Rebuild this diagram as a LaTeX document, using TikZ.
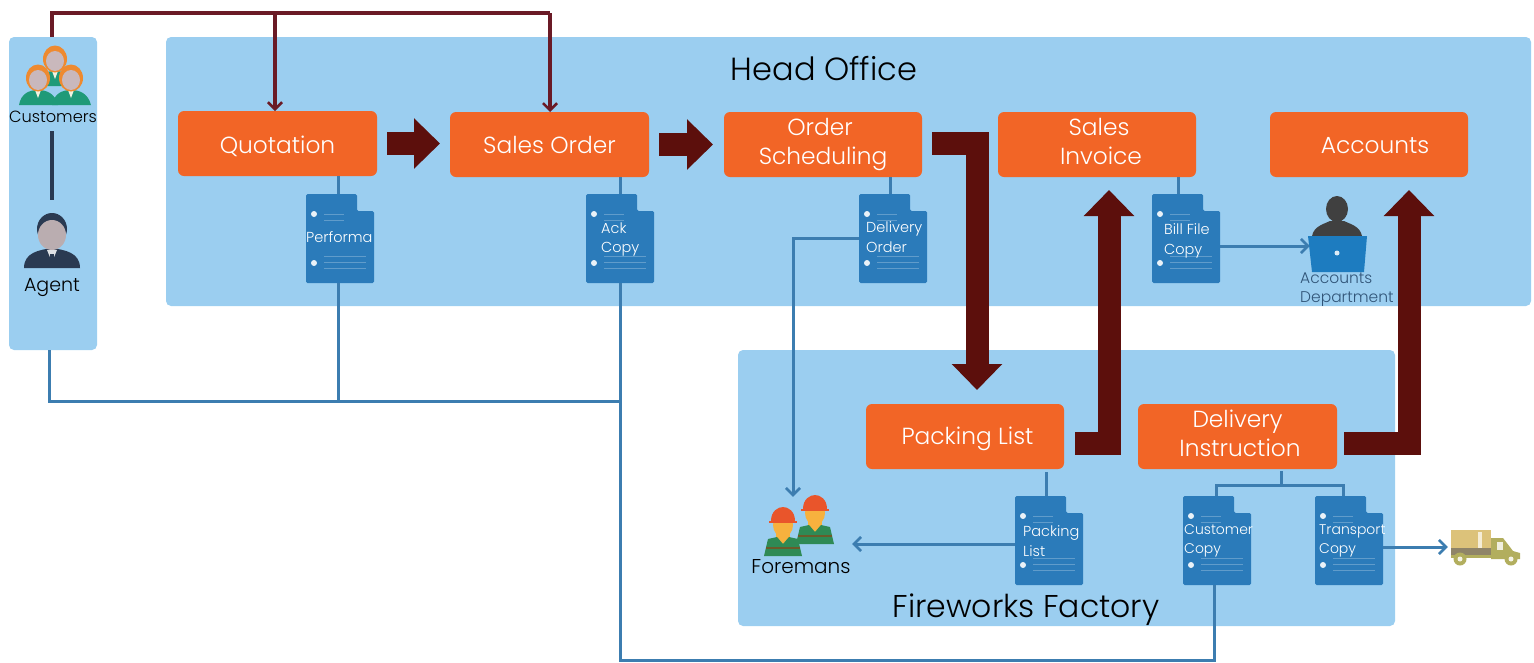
\documentclass[tikz,border=0pt]{standalone}
\usepackage{fontspec}
\setmainfont{Poppins Light}
\usetikzlibrary{arrows.meta,calc}
\definecolor{panel}{HTML}{9BCEF0}
\definecolor{boxor}{HTML}{F26526}
\definecolor{docb}{HTML}{2B7BBA}
\definecolor{lineb}{HTML}{3C7DB0}
\definecolor{bigr}{HTML}{5C0F0C}
\definecolor{thinr}{HTML}{6A1A26}
\definecolor{navy}{HTML}{2A3A52}
\definecolor{F1}{HTML}{1F9A78}
\definecolor{F2}{HTML}{F2F2E0}
\definecolor{F3}{HTML}{EE8A30}
\definecolor{F4}{HTML}{C9B8BC}
\definecolor{HG}{HTML}{2F8A55}
\definecolor{HY}{HTML}{F7B13E}
\definecolor{HR}{HTML}{E9552B}
\definecolor{HB}{HTML}{6B5A2A}
\definecolor{LAP}{HTML}{1D7CC0}
\definecolor{TK1}{HTML}{DCC27A}
\definecolor{TK2}{HTML}{8F8468}
\definecolor{TK3}{HTML}{B2AE5E}
\tikzset{
  panelbox/.style={fill=panel,rounded corners=5pt,minimum width=#1,inner sep=0pt,outer sep=0pt},
  orangebox/.style={fill=boxor,rounded corners=6pt,minimum width=198pt,minimum height=65pt,inner sep=0pt,outer sep=0pt,text=white,align=center,font=\fontsize{23.3}{29}\selectfont},
  docnode/.style={minimum width=68pt,minimum height=89pt,inner sep=0pt,outer sep=0pt},
  doctext/.style={text=white,align=left,inner sep=0pt,font=\fontsize{14.5}{19.5}\selectfont,anchor=west},
  blackt/.style={text=black,inner sep=0pt,font=\fontsize{16.2}{19}\selectfont},
  titletext/.style={text=black,inner sep=0pt,font=\fontsize{32}{36}\selectfont},
  blueline/.style={draw=lineb,line width=3pt},
  bluearrow/.style={blueline,-{Straight Barb[length=7pt,width=14pt,line width=2.6pt]}},
  redline/.style={draw=thinr,line width=3.2pt},
  redarrow/.style={redline,-{Straight Barb[length=7pt,width=14pt,line width=2.6pt]}},
  bigarrow/.style={draw=bigr,line width=23pt,line join=miter,-{Triangle[width=49pt,length=26pt]}},
}
\newcommand{\docshape}[2]{% x y top-left
  \fill[docb,rounded corners=1.5pt] (#1,#2) -- ++(51,0) -- ++(0,17) -- ++(17,0) -- ++(0,72) -- ++(-68,0) -- cycle;
  \fill[white!90!docb] (#1+8,#2+20) circle (3pt) (#1+8,#2+69) circle (3pt);
  \draw[white!25!docb,line width=.8pt] (#1+18,#2+20) -- ++(20,0) (#1+18,#2+26) -- ++(20,0)
     (#1+18,#2+62) -- ++(42,0) (#1+18,#2+68) -- ++(42,0) (#1+18,#2+74) -- ++(42,0);
}
\newcommand{\woman}[2]{% x y: head centre
  \fill[F1] (#1-19,#2+26) .. controls (#1-17,#2+14) and (#1-8,#2+11) .. (#1,#2+11) .. controls (#1+8,#2+11) and (#1+17,#2+14) .. (#1+20,#2+26) -- cycle;
  \fill[F2] (#1-3,#2+11) -- (#1+3,#2+11) -- (#1,#2+19) -- cycle;
  \fill[F3] (#1,#2-1) ellipse (12pt and 13.5pt);
  \fill[F4] (#1,#2+1) ellipse (9pt and 10pt);
}
\newcommand{\foreman}[2]{% x y: head centre
  \fill[HY] (#1-7,#2+10) rectangle (#1+7,#2+22);
  \fill[HG] (#1-19,#2+34) -- (#1-15,#2+17) -- (#1-6,#2+15) -- (#1,#2+22) -- (#1+6,#2+15) -- (#1+15,#2+17) -- (#1+19,#2+34) -- cycle;
  \fill[HY] (#1,#2+3) ellipse (10pt and 12pt);
  \fill[HR] (#1-12,#2-1) .. controls (#1-12,#2-11) and (#1-5,#2-15) .. (#1,#2-15) .. controls (#1+5,#2-15) and (#1+12,#2-11) .. (#1+12,#2-1) -- cycle;
  \fill[HR] (#1-14,#2-1) rectangle (#1+14,#2+1);
  \fill[HB] (#1-17,#2+25) rectangle (#1+17,#2+27);
}
\begin{document}
\begin{tikzpicture}[x=1pt,y=-1pt]
\useasboundingbox (0,0) rectangle (1534,662);
% panels
\node[panelbox=88pt,minimum height=313pt] (side) at (53,193.5) {};
\node[panelbox=1365pt,minimum height=269pt] (head) at (848.5,171.5) {};
\node[panelbox=657pt,minimum height=276pt] (factory) at (1066.5,488) {};
% orange boxes
\node[orangebox,minimum width=199pt] (quot) at (277.5,143.5) {\raisebox{0pt}[19pt][0pt]{Quotation}};
\node[orangebox,minimum width=199pt] (so) at (549.5,144.5) {Sales Order};
\node[orangebox] (sched) at (823,144.5) {Order\hspace*{6pt}\\Scheduling};
\node[orangebox] (inv) at (1097,144.5) {\hspace*{4pt}Sales\\\hspace*{8pt}Invoice\vphantom{g}};
\node[orangebox] (acc) at (1369,144.5) {\hspace*{12pt}\raisebox{0pt}[17pt][0pt]{Accounts}};
\node[orangebox] (pack) at (965,436.5) {\hspace*{5pt}\raisebox{0pt}[15pt][0pt]{Packing List}};
\node[orangebox,minimum width=199pt] (deliv) at (1237.5,436.5) {Delivery\\\hspace*{5pt}Instruction\vphantom{g}};
% documents
\docshape{306}{194}\docshape{586}{194}\docshape{859}{194}\docshape{1152}{194}
\docshape{1015}{496}\docshape{1183}{496}\docshape{1315}{496}
\node[docnode] (dperf) at (340,238.5) {};
\node[docnode] (dack) at (620,238.5) {};
\node[docnode] (ddo) at (893,238.5) {};
\node[docnode] (dbill) at (1186,238.5) {};
\node[docnode] (dpack) at (1049,540.5) {};
\node[docnode] (dcust) at (1217,540.5) {};
\node[docnode] (dtrans) at (1349,540.5) {};
\node[doctext] (tperf) at (306,237) {Performa};
\node[doctext] (tack) at (601,239.5) {Ack\\Copy};
\node[doctext] (tdo) at (866,237) {Delivery\\Order};
\node[doctext] (tbill) at (1164,241) {Bill File\\Copy};
\node[doctext] (tpack) at (1023,541) {Packing\\List};
\node[doctext,font=\fontsize{14}{18.5}\selectfont] (tcust) at (1184,541) {Customer\\Copy};
\node[doctext,font=\fontsize{14}{18.5}\selectfont] (ttrans) at (1319,541) {Transport\\Copy};
% titles and labels
\node[titletext] (thead) at (824,69) {Head Office};
\node[titletext,font=\fontsize{31.5}{36}\selectfont] (tfact) at (1026,610) {Fireworks Factory};
\node[blackt] (tcustomers) at (53,116.5) {Customers};
\node[blackt,font=\fontsize{19}{22}\selectfont] (tagent) at (52,287) {Agent};
\node[blackt,font=\fontsize{20}{22}\selectfont] (tforemans) at (801,567) {Foremans};
\node[text=navy!60!lineb,align=left,inner sep=0pt,anchor=west,font=\fontsize{15.5}{19}\selectfont] (tdept) at (1300,290) {Accounts\\Department};
% customers icon
\woman{55}{60}\woman{38}{79}\woman{71}{79}
\coordinate (custtop) at (53,37);
% agent icon
\fill[navy] (24,268) .. controls (24,252) and (40,250) .. (52,248) .. controls (64,250) and (80,252) .. (80,268) -- cycle;
\fill[white!85!navy] (47,250) -- (57,250) -- (52,262) -- cycle;
\fill[navy] (50,254) rectangle (54,268);
\fill[navy] (52,229) ellipse (15pt and 16pt);
\fill[F4!80!gray] (52,235) ellipse (14pt and 15pt);
\coordinate (agenttop) at (52,200);
\coordinate (custbot) at (52,131);
% accounts person + laptop
\fill[black!75] (1312,236) .. controls (1314,226) and (1324,224) .. (1330,221) -- (1344,221) .. controls (1350,224) and (1360,226) .. (1362,236) -- cycle;
\fill[black!75] (1337,209) ellipse (11pt and 13pt);
\fill[LAP] (1308,236) -- (1367,236) -- (1364,272) -- (1312,272) -- cycle;
\fill[white!85!LAP] (1337,253) circle (2.5pt);
\node[inner sep=0pt,minimum size=0pt] (laptop) at (1310,246) {};
% foremen icon
\foreman{815}{510}\foreman{783}{522}
\node[inner sep=0pt,minimum size=0pt] (foreicon) at (852,544) {};
\node[inner sep=0pt,minimum size=0pt] (foretop) at (793,497) {};
% truck
\fill[TK1] (1451,530) rectangle (1491,548);
\fill[TK2] (1451,548) rectangle (1491,555);
\fill[white!70!TK1] (1478,532) rectangle (1482,548);
\fill[TK3] (1491,538) -- (1503,538) -- (1513,551) -- (1520,553) -- (1520,559) -- (1491,559) -- cycle;
\fill[white!80!TK3] (1497,542) rectangle (1503,550);
\fill[TK3] (1451,555) rectangle (1491,558);
\fill[TK3] (1460,559) circle (6.5pt) (1511,559) circle (6.5pt);
\fill[white!85!TK3] (1460,559) circle (2.5pt) (1511,559) circle (2.5pt);
\node[inner sep=0pt,minimum size=0pt] (truck) at (1448,547) {};
% thin dark-red lines
\coordinate (topA) at (52,13);
\coordinate (topQ) at (275,13);
\coordinate (topS) at (550,13);
\draw[redline] (custtop -| topA) -- (topA) -- (topS);
\draw[redarrow] (topQ) -- (topQ |- quot.north);
\draw[redarrow] (topS) -- (topS |- so.north);
\draw[draw=navy,line width=3.5pt] (custbot) -- (agenttop);
% blue lines
\coordinate (busL) at (49,401);
\coordinate (busM) at (620,401);
\coordinate (busB) at (620,660);
\coordinate (busE) at (1214,660);
\draw[blueline] (side.south -| busL) -- (busL) -- (busM);
\draw[blueline] ([xshift=-2pt]dperf.south) -- ([xshift=-2pt]dperf.south |- busL);
\draw[blueline] (dack.south) -- (busB) -- (busE) -- (busE |- dcust.south);
\draw[blueline] ([xshift=-2pt]dperf.north) -- ([xshift=-2pt]dperf.north |- quot.south);
\draw[blueline] (dack.north) -- (dack.north |- so.south);
\draw[blueline] (890,194) -- (890,177);
\draw[blueline] (1178,194) -- (1178,177);
\draw[blueline] (1046,496) -- (1046,472);
\draw[blueline] (1281,471) -- (1281,485);
\draw[blueline] (1216,496) -- (1216,485) -- (1343,485) -- (1343,496);
\draw[bluearrow] (ddo.west) -- (foretop |- ddo.west) -- (foretop);
\draw[bluearrow] (dbill.east |- laptop) -- (laptop);
\draw[bluearrow] (dpack.west |- foreicon) -- (foreicon);
\draw[bluearrow] (dtrans.east |- truck) -- (truck);
% big arrows
\draw[bigarrow,shorten <=10pt,shorten >=10pt] (quot.east) -- (quot.east -| so.west);
\draw[bigarrow,shorten <=10pt,shorten >=11pt] (so.east) -- (sched.west);
\coordinate (bendA) at (977,143.5);
\coordinate (bendB) at (1109,443);
\coordinate (bendC) at (1409,443);
\coordinate (tipA) at (977,390);
\coordinate (tipB) at (1109,190);
\coordinate (tipC) at (1409,190);
\draw[bigarrow,shorten <=10pt] (sched.east |- bendA) -- (bendA) -- (tipA);
\draw[bigarrow,shorten <=11pt] (pack.east |- bendB) -- (bendB) -- (tipB);
\draw[bigarrow,shorten <=7pt] (deliv.east |- bendC) -- (bendC) -- (tipC);
\end{tikzpicture}
\end{document}
